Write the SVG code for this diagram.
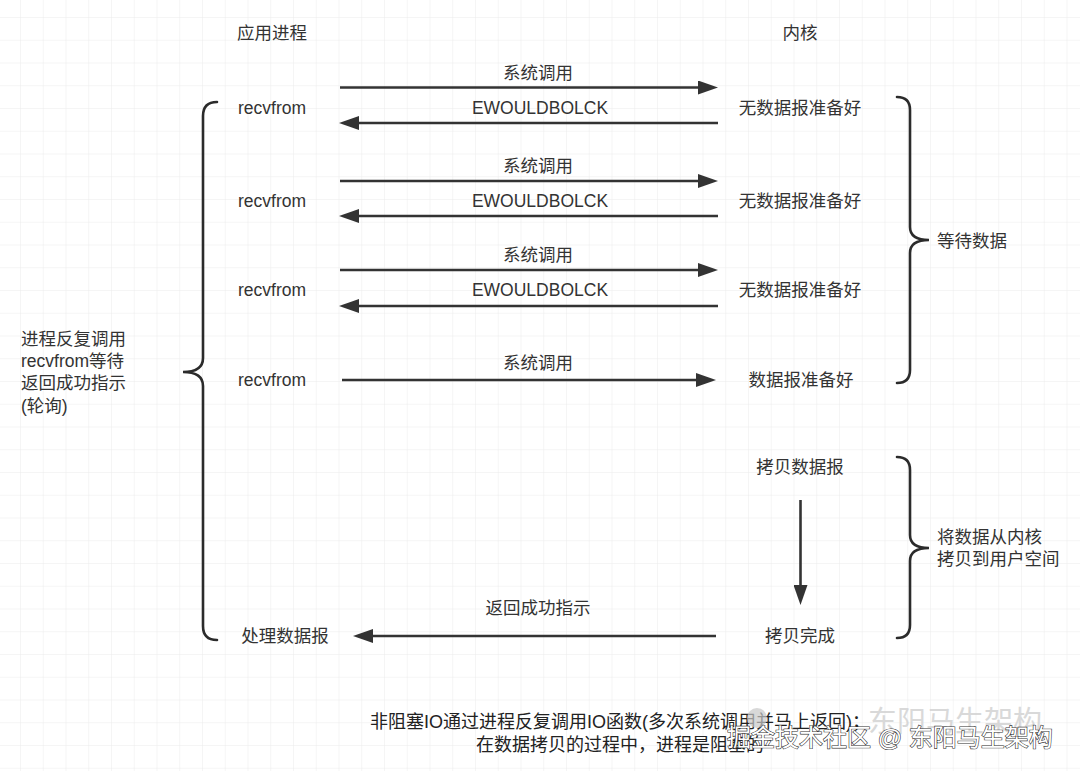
<svg xmlns="http://www.w3.org/2000/svg" width="1080" height="771" viewBox="0 0 1080 771">
<style>
.t{font-family:"Liberation Sans","Noto Sans CJK SC",sans-serif;font-size:17.5px;fill:#333}
.c{text-anchor:middle}
.l{fill:none;stroke:#333;stroke-width:2.6}
.b{fill:none;stroke:#2b2b2b;stroke-width:2.6;stroke-linecap:round}
.ft{font-family:"Liberation Sans","Noto Sans CJK SC",sans-serif;font-size:18px;fill:#222;text-anchor:middle}
</style>
<defs>
<pattern id="grid" patternUnits="userSpaceOnUse" x="20" y="17" width="22.75" height="22.75">
<path d="M0,0 H22.75 M0,0 V22.75" fill="none" stroke="#ebebeb" stroke-width="1"/>
</pattern>
<marker id="ah" viewBox="0 0 20 14" refX="14" refY="7" markerWidth="20" markerHeight="14" markerUnits="userSpaceOnUse" orient="auto">
<path d="M0,0 L20,7 L0,14 Z" fill="#333"/>
</marker>
</defs>
<rect width="1080" height="771" fill="#fff"/>
<rect width="1080" height="771" fill="url(#grid)"/>

<g id="headers">
<text class="t c" x="272" y="39">应用进程</text>
<text class="t c" x="800" y="39">内核</text>
</g>

<g id="app-nodes">
<text id="recv1" class="t c" x="272" y="114">recvfrom</text>
<text id="recv2" class="t c" x="272" y="207">recvfrom</text>
<text id="recv3" class="t c" x="272" y="296">recvfrom</text>
<text id="recv4" class="t c" x="272" y="386">recvfrom</text>
<text id="process" class="t c" x="285" y="642">处理数据报</text>
</g>

<g id="kernel-nodes">
<text id="k1" class="t c" x="800" y="114">无数据报准备好</text>
<text id="k2" class="t c" x="800" y="207">无数据报准备好</text>
<text id="k3" class="t c" x="800" y="296">无数据报准备好</text>
<text id="k4" class="t c" x="801" y="386">数据报准备好</text>
<text id="copy" class="t c" x="800" y="473">拷贝数据报</text>
<text id="copydone" class="t c" x="800" y="642">拷贝完成</text>
</g>

<g id="connectors">
<line class="l" x1="340" y1="87.5" x2="712" y2="87.5" marker-end="url(#ah)"/>
<line class="l" x1="718" y1="123" x2="345" y2="123" marker-end="url(#ah)"/>
<line class="l" x1="340" y1="181" x2="712" y2="181" marker-end="url(#ah)"/>
<line class="l" x1="718" y1="216" x2="345" y2="216" marker-end="url(#ah)"/>
<line class="l" x1="340" y1="270" x2="712" y2="270" marker-end="url(#ah)"/>
<line class="l" x1="718" y1="306" x2="345" y2="306" marker-end="url(#ah)"/>
<line class="l" x1="342" y1="380" x2="710" y2="380" marker-end="url(#ah)"/>
<line class="l" x1="800.5" y1="500" x2="800.5" y2="599" marker-end="url(#ah)"/>
<line class="l" x1="716" y1="636" x2="359" y2="636" marker-end="url(#ah)"/>
</g>

<g id="connector-labels">
<text class="t c" x="538" y="79">系统调用</text>
<text class="t c" x="540" y="114">EWOULDBOLCK</text>
<text class="t c" x="538" y="172">系统调用</text>
<text class="t c" x="540" y="207">EWOULDBOLCK</text>
<text class="t c" x="538" y="261">系统调用</text>
<text class="t c" x="540" y="296">EWOULDBOLCK</text>
<text class="t c" x="538" y="369">系统调用</text>
<text class="t c" x="538" y="614">返回成功指示</text>
</g>

<g id="brace-left">
<path class="b" d="M217,102 Q203,102 203,116 L203,358 Q203,372 183,372 Q203,372 203,386 L203,626 Q203,640 217,640"/>
<text class="t" x="21" y="345">进程反复调用</text>
<text class="t" x="21" y="367">recvfrom等待</text>
<text class="t" x="21" y="389">返回成功指示</text>
<text class="t" x="21" y="412">(轮询)</text>
</g>

<g id="brace-wait">
<path class="b" d="M897,97 Q910,97 910,110 L910,227 Q910,240 929,240 Q910,240 910,253 L910,370 Q910,383 897,383"/>
<text class="t" x="937" y="247">等待数据</text>
</g>

<g id="brace-copy">
<path class="b" d="M897,457 Q910,457 910,470 L910,535 Q910,548 929,548 Q910,548 910,561 L910,625 Q910,638 897,638"/>
<text class="t" x="937" y="543">将数据从内核</text>
<text class="t" x="937" y="565">拷贝到用户空间</text>
</g>

<g id="footer">
<text class="ft" x="620" y="728">非阻塞IO通过进程反复调用IO函数(多次系统调用并马上返回)；</text>
<text class="ft" x="620" y="751">在数据拷贝的过程中，进程是阻塞的</text>
</g>

<g id="watermark">
<circle cx="757" cy="718" r="10" fill="#c8c8c8" opacity="0.7"/>
<text x="868" y="732" style="font-family:'Noto Sans CJK SC',sans-serif;font-size:29px;fill:#d0d0d0;opacity:0.8">东阳马生架构</text>
<text x="727" y="746" style="font-family:'Liberation Sans','Noto Sans CJK SC',sans-serif;font-size:24px;fill:#fff;stroke:#333;stroke-width:1.2;paint-order:stroke">掘金技术社区 @ 东阳马生架构</text>
</g>
</svg>
